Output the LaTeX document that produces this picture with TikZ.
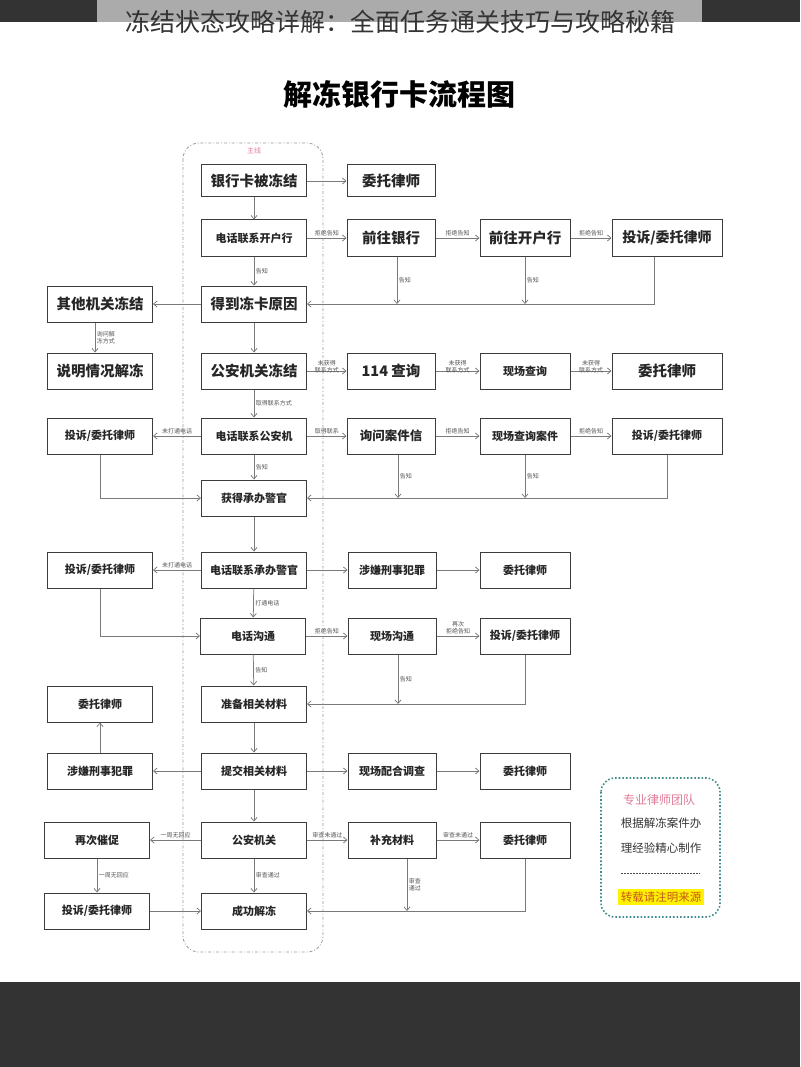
\documentclass[tikz,border=0pt]{standalone}
\usepackage{fontspec}
\setmainfont{Noto Sans CJK SC}
\usetikzlibrary{arrows.meta}
\definecolor{bardark}{HTML}{333333}
\definecolor{capband}{HTML}{ABABAB}
\definecolor{boxline}{HTML}{3C3C3C}
\definecolor{linkgray}{HTML}{7A7A7A}
\definecolor{tagtext}{HTML}{555555}
\definecolor{zonegray}{HTML}{9A9A9A}
\definecolor{pinktext}{HTML}{E27C98}
\definecolor{infoteal}{HTML}{3E8C8C}
\definecolor{notetext}{HTML}{C8561C}
\begin{document}
\begin{tikzpicture}[x=1pt,y=-1pt,>={Straight Barb[length=3.5pt,width=6pt]},
	box/.style={draw=boxline,line width=1pt,minimum height=36pt,inner sep=0pt,text=black!85,font=\bfseries\fontsize{11}{13}\selectfont},
	bigbox/.style={box,font=\bfseries\fontsize{14.5}{16}\selectfont},
	colmain/.style={minimum width=105pt},
	colleft/.style={minimum width=105pt},
	colthree/.style={minimum width=88pt},
	colfour/.style={minimum width=90pt},
	colfive/.style={minimum width=110pt},
	link/.style={->,draw=linkgray,line width=0.75pt},
	tag/.style={font=\fontsize{6}{7}\selectfont,text=tagtext,inner sep=1.5pt,align=center}]
	\useasboundingbox (0,0) rectangle (800,1067);
	\fill[white] (0,0) rectangle (800,1067);
	% bars
	\fill[bardark] (0,0) rectangle (800,22);
	\fill[capband] (97,0) rectangle (702,22);
	\fill[bardark] (0,982) rectangle (800,1067);
	\node[font=\fontsize{25}{27}\selectfont,text=bardark] (caption) at (400,22) {冻结状态攻略详解：全面任务通关技巧与攻略秘籍};
	\node[font=\bfseries\fontsize{29}{31}\selectfont] (title) at (399,94) {解冻银行卡流程图};
	% main line zone
	\draw[zonegray,line width=0.8pt,rounded corners=16pt,dash pattern=on 3pt off 2pt on 0.8pt off 2pt] (183,143) rectangle (323,952);
	\node[font=\fontsize{7}{8}\selectfont,text=pinktext] (zonetag) at (254,151) {主线};
	% main column
	\node[bigbox,colmain,minimum height=32pt] (frozen) at (254,181) {银行卡被冻结};
	\node[box,colmain] (callbank) at (254,238) {电话联系开户行};
	\node[bigbox,colmain] (reason) at (254,304) {得到冻卡原因};
	\node[bigbox,colmain] (police) at (254,371) {公安机关冻结};
	\node[box,colmain] (callpol) at (254,436) {电话联系公安机};
	\node[box,colmain] (officer) at (254,498) {获得承办警官};
	\node[box,colmain] (callofc) at (254,570) {电话联系承办警官};
	\node[box,colmain] (phone) at (253,636) {电话沟通};
	\node[box,colmain] (prep) at (254,704) {准备相关材料};
	\node[box,colmain] (submit) at (254,771) {提交相关材料};
	\node[box,colmain] (gaj) at (254,840) {公安机关};
	\node[box,colmain] (done) at (254,911) {成功解冻};
	% left column
	\node[bigbox,colleft] (other) at (100,304) {其他机关冻结};
	\node[bigbox,colleft] (explain) at (100,371) {说明情况解冻};
	\node[box,colleft] (lcomp1) at (100,436) {投诉/委托律师};
	\node[box,colleft] (lcomp2) at (100,570) {投诉/委托律师};
	\node[box,colleft] (llaw) at (100,704) {委托律师};
	\node[box,colleft] (lcrime) at (100,771) {涉嫌刑事犯罪};
	\node[box,colleft] (urge) at (97,840) {再次催促};
	\node[box,colleft] (lcomp3) at (97,911) {投诉/委托律师};
	% third column
	\node[bigbox,colthree,minimum height=32pt] (law1) at (391,181) {委托律师};
	\node[bigbox,colthree] (gobank) at (391,238) {前往银行};
	\node[bigbox,colthree] (q114) at (391,371) {114 查询};
	\node[box,colthree,font=\bfseries\fontsize{12.5}{14}\selectfont] (ask) at (391,436) {询问案件信};
	\node[box,colthree] (crime) at (392,570) {涉嫌刑事犯罪};
	\node[box,colthree] (onsite) at (392,636) {现场沟通};
	\node[box,colthree] (coop) at (392,771) {现场配合调查};
	\node[box,colthree] (supp) at (392,840) {补充材料};
	% fourth column
	\node[bigbox,colfour] (goopen) at (525,238) {前往开户行};
	\node[box,colfour] (siteq) at (525,371) {现场查询};
	\node[box,colfour] (sitecase) at (525,436) {现场查询案件};
	\node[box,colfour] (law2) at (525,570) {委托律师};
	\node[box,colfour] (comp4) at (525,636) {投诉/委托律师};
	\node[box,colfour] (law3) at (525,771) {委托律师};
	\node[box,colfour] (law4) at (525,840) {委托律师};
	% fifth column
	\node[bigbox,colfive,font=\bfseries\fontsize{14}{16}\selectfont] (comp1) at (667,238) {投诉/委托律师};
	\node[bigbox,colfive] (law5) at (667,371) {委托律师};
	\node[box,colfive] (comp2) at (667,436) {投诉/委托律师};
	% drop points
	\coordinate (dgobank) at ([xshift=6pt]gobank.south);
	\coordinate (dask) at ([xshift=7pt]ask.south);
	\coordinate (donsite) at ([xshift=6pt]onsite.south);
	\coordinate (dsupp) at ([xshift=15pt]supp.south);
	\coordinate (dother) at ([xshift=-5pt]other.south);
	% rows 1-3
	\draw[link] (frozen) -- (law1);
	\draw[link] (frozen) -- (callbank);
	\draw[link] (callbank) -- node[tag,above]{拒绝告知} (gobank);
	\draw[link] (gobank) -- node[tag,above]{拒绝告知} (goopen);
	\draw[link] (goopen) -- node[tag,above]{拒绝告知} (comp1);
	\draw[link] (callbank) -- node[tag,right]{告知} (reason);
	\draw[link] (dgobank) -- node[tag,right]{告知} (dgobank |- reason.east);
	\draw[link] (goopen.south) -- node[tag,right]{告知} (goopen.south |- reason.east);
	\draw[link] ([xshift=-13pt]comp1.south) |- (reason.east);
	% row 4
	\draw[link] (reason) -- (other);
	\draw[link] (dother) -- node[tag,right]{询问解\\冻方式} (dother |- explain.north);
	\draw[link] (reason) -- (police);
	\draw[link] (police) -- node[tag,above=-4pt]{未获得\\联系方式} (q114);
	\draw[link] (q114) -- node[tag,above=-4pt]{未获得\\联系方式} (siteq);
	\draw[link] (siteq) -- node[tag,above=-4pt]{未获得\\联系方式} (law5);
	% row 5-6
	\draw[link] (police) -- node[tag,right]{取得联系方式} (callpol);
	\draw[link] (callpol) -- node[tag,above]{未打通电话} (lcomp1);
	\draw[link] (callpol) -- node[tag,above]{取得联系} (ask);
	\draw[link] (ask) -- node[tag,above]{拒绝告知} (sitecase);
	\draw[link] (sitecase) -- node[tag,above]{拒绝告知} (comp2);
	\draw[link] (callpol) -- node[tag,right]{告知} (officer);
	\draw[link] (dask) -- node[tag,right]{告知} (dask |- officer.east);
	\draw[link] (sitecase.south) -- node[tag,right]{告知} (sitecase.south |- officer.east);
	\draw[link] (comp2.south) |- (officer.east);
	\draw[link] (lcomp1.south) |- (officer.west);
	% rows 7-9
	\draw[link] (officer) -- (callofc);
	\draw[link] (callofc) -- node[tag,above]{未打通电话} (lcomp2);
	\draw[link] (callofc) -- (crime);
	\draw[link] (crime) -- (law2);
	\draw[link] (callofc) -- node[tag,right]{打通电话} (phone);
	\draw[link] (lcomp2.south) |- (phone.west);
	\draw[link] (phone) -- node[tag,above]{拒绝告知} (onsite);
	\draw[link] (onsite) -- node[tag,above]{再次\\拒绝告知} (comp4);
	\draw[link] (phone) -- node[tag,right]{告知} (prep);
	\draw[link] (donsite) -- node[tag,right]{告知} (donsite |- prep.east);
	\draw[link] (comp4.south) |- (prep.east);
	% rows 10-12
	\draw[link] (prep) -- (submit);
	\draw[link] (submit) -- (lcrime);
	\draw[link] (lcrime) -- (llaw);
	\draw[link] (submit) -- (coop);
	\draw[link] (coop) -- (law3);
	\draw[link] (submit) -- (gaj);
	\draw[link] (gaj) -- node[tag,above]{一周无回应} (urge);
	\draw[link] (urge) -- node[tag,right]{一周无回应} (lcomp3);
	\draw[link] (lcomp3) -- (done);
	\draw[link] (gaj) -- node[tag,right]{审查通过} (done);
	\draw[link] (gaj) -- node[tag,above]{审查未通过} (supp);
	\draw[link] (supp) -- node[tag,above]{审查未通过} (law4);
	\draw[link] (dsupp) -- node[tag,right]{审查\\通过} (dsupp |- done.east);
	\draw[link] (law4.south) |- (done.east);
	% info box
	\draw[infoteal,line width=1.6pt,dotted,rounded corners=14pt] (601,778) rectangle (720,917);
	\node[font=\fontsize{12}{14}\selectfont,text=pinktext] (team) at (659,800) {专业律师团队};
	\node[font=\fontsize{11.5}{13}\selectfont,text=black!80] (basis) at (661,823) {根据解冻案件办};
	\node[font=\fontsize{11.5}{13}\selectfont,text=black!80] (made) at (661,848) {理经验精心制作};
	\draw[black!70,line width=0.5pt,dash pattern=on 2pt off 1pt] (621,873) -- (700,873);
	\node[font=\fontsize{11.5}{13}\selectfont,text=notetext,fill=yellow,inner sep=2.5pt] (repost) at (661,897) {转载请注明来源};
\end{tikzpicture}
\end{document}
